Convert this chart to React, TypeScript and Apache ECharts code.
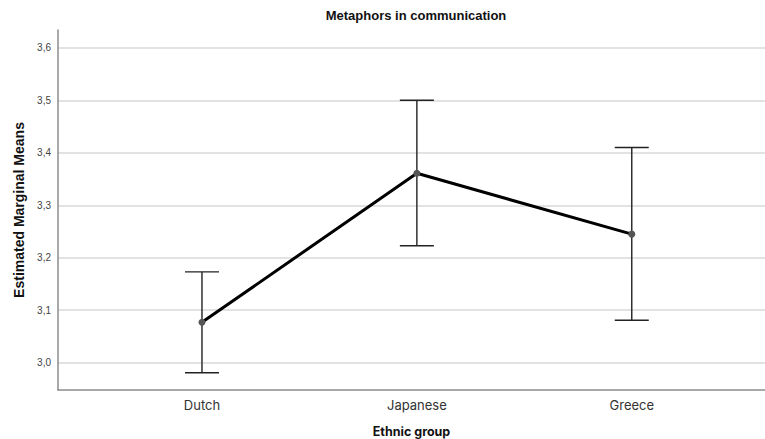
import React, { useEffect, useRef } from "react";
import * as echarts from "echarts";

const categories = ["Dutch", "Japanese", "Greece"];
const means = [3.077, 3.361, 3.245];
const lowerCI = [2.981, 3.223, 3.081];
const upperCI = [3.173, 3.5, 3.41];
const yTicks = [3.0, 3.1, 3.2, 3.3, 3.4, 3.5, 3.6];

export default function App() {
  const ref = useRef<HTMLDivElement>(null);
  useEffect(() => {
    if (!ref.current) return;
    const chart = echarts.init(ref.current, null, { renderer: "svg" });
    const lineData = means.map((m, i) => [i, m]);
    const errData = categories.map((_, i) => [i, lowerCI[i], upperCI[i]]);
    chart.setOption({
      animation: false,
      backgroundColor: "#ffffff",
      title: {
        text: "Metaphors in communication",
        left: 411,
        textAlign: "center",
        top: 4,
        textStyle: { fontFamily: "Liberation Sans", fontSize: 13, fontWeight: "bold", color: "#111" },
      },
      grid: { left: 58, right: 0, top: 30, bottom: 49, containLabel: false, outerBoundsMode: "none" },
      xAxis: {
        type: "value",
        min: -0.67,
        max: 2.62,
        name: "Ethnic group",
        nameLocation: "middle",
        nameGap: 35,
        nameTextStyle: { fontFamily: "Inter", fontSize: 12.5, fontWeight: "bold", color: "#111" },
        axisLine: { show: true, onZero: false, lineStyle: { color: "#8c8c8c", width: 1.5 } },
        axisTick: { show: false, customValues: [0, 1, 2] },
        splitLine: { show: false },
        axisLabel: {
          customValues: [0, 1, 2],
          formatter: (v: number) => categories[Math.round(v)] ?? "",
          margin: 8,
          fontFamily: "Inter",
          fontSize: 13,
          color: "#333",
        },
      },
      yAxis: {
        type: "value",
        min: 2.948,
        max: 3.634,
        name: "Estimated Marginal Means",
        nameLocation: "middle",
        nameGap: 32,
        nameTextStyle: { fontFamily: "Liberation Sans", fontSize: 14, fontWeight: "bold", color: "#111" },
        axisLine: { show: true, onZero: false, lineStyle: { color: "#8c8c8c", width: 1.5 } },
        axisTick: { show: false, customValues: yTicks },
        axisLabel: {
          customValues: yTicks,
          formatter: (v: number) => v.toFixed(1).replace(".", ","),
          fontFamily: "Liberation Sans",
          fontSize: 10,
          color: "#444",
          margin: 7,
        },
        splitLine: { show: true, lineStyle: { color: "#d9d9d9", width: 1.5 } },
      },
      series: [
        {
          type: "custom",
          data: errData,
          encode: { x: 0, y: [1, 2] },
          z: 2,
          renderItem: (params: any, api: any) => {
            const x = api.value(0);
            const lo = api.coord([x, api.value(1)]);
            const hi = api.coord([x, api.value(2)]);
            const hw = 17;
            const style = { stroke: "#222", lineWidth: 1.4 };
            return {
              type: "group",
              children: [
                { type: "line", shape: { x1: lo[0], y1: lo[1], x2: hi[0], y2: hi[1] }, style },
                { type: "line", shape: { x1: lo[0] - hw, y1: lo[1], x2: lo[0] + hw, y2: lo[1] }, style },
                { type: "line", shape: { x1: hi[0] - hw, y1: hi[1], x2: hi[0] + hw, y2: hi[1] }, style },
              ],
            };
          },
        },
        {
          type: "line",
          data: lineData,
          z: 3,
          symbol: "circle",
          symbolSize: 7,
          itemStyle: { color: "#555" },
          lineStyle: { color: "#000", width: 3 },
        },
      ],
    });
    return () => chart.dispose();
  }, []);
  return <div ref={ref} style={{ width: 765, height: 439, position: "absolute", left: 0, top: 0 }} />;
}
